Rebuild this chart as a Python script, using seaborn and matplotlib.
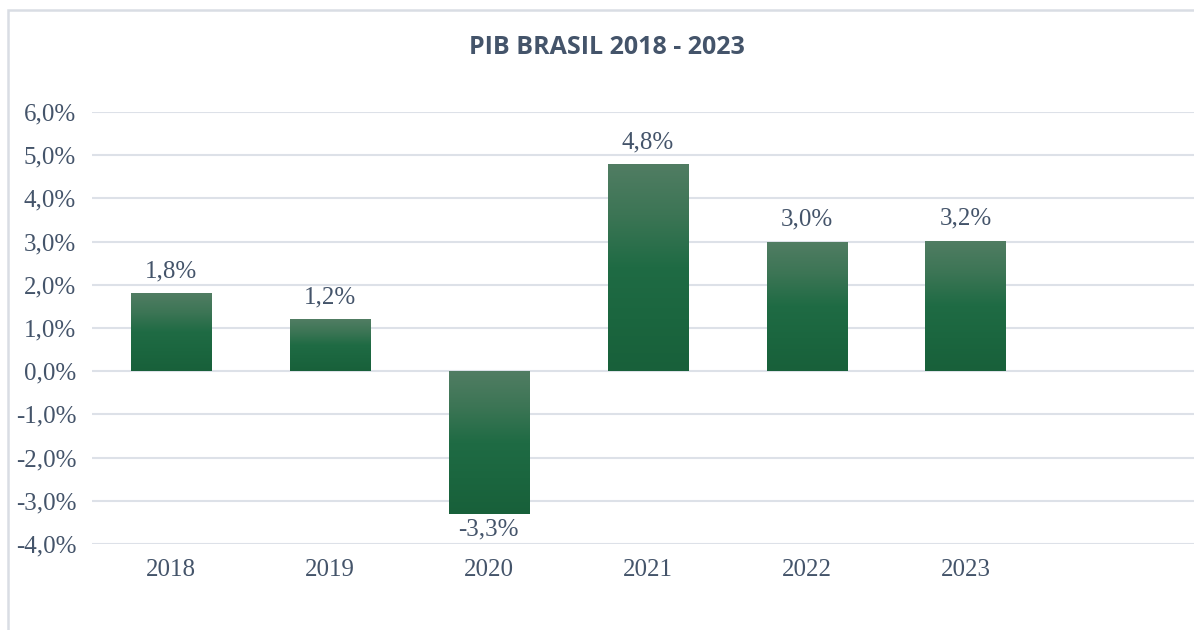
import numpy as np
import pandas as pd
import seaborn as sns
import matplotlib.pyplot as plt
from matplotlib.patches import Rectangle
from matplotlib.colors import LinearSegmentedColormap

# dados
anos = ["2018", "2019", "2020", "2021", "2022", "2023"]
pib = [1.8, 1.2, -3.3, 4.8, 3.0, 3.02]
rotulos = ["1,8%", "1,2%", "-3,3%", "4,8%", "3,0%", "3,2%"]
yticks = [-4, -3, -2, -1, 0, 1, 2, 3, 4, 5, 6]

TXT = "#44546a"
GRID = "#dde1e8"
SERIF = "Liberation Serif"

df = pd.DataFrame({"ano": anos, "pib": pib})

sns.set_style("white")
fig = plt.figure(figsize=(11.94, 6.30), dpi=100)
W, H = 1194, 630
# eixo vai além da borda direita (7o slot vazio, cortado)
ax = fig.add_axes([91.5 / W, 1 - 544 / H, (1204 - 91.5) / W, 432 / H])

sns.barplot(data=df, x="ano", y="pib", color="#1e6b43", width=0.505, ax=ax,
            saturation=1, zorder=3)

# gradiente nas barras
cmap = LinearSegmentedColormap.from_list(
    "g", ["#517d63", "#3c7555", "#1f6b44", "#1b663f", "#18603a"])
grad = np.linspace(0, 1, 256).reshape(-1, 1)
for p in ax.patches:
    x0, w = p.get_x(), p.get_width()
    y0, h = p.get_y(), p.get_height()
    top, bot = max(y0, y0 + h), min(y0, y0 + h)
    im = ax.imshow(grad, cmap=cmap, aspect="auto", extent=[x0, x0 + w, bot, top],
                   origin="upper", zorder=4)
    im.set_clip_path(p)
    p.set_facecolor("none")
    p.set_edgecolor("none")

ax.set_xlim(-0.5, 6.5)
ax.set_ylim(-4, 6)

# rótulos de valor
for i, (v, t) in enumerate(zip(pib, rotulos)):
    if v >= 0:
        ax.text(i, v + 0.25, t, ha="center", va="bottom", fontsize=18,
                family=SERIF, color=TXT)
    else:
        ax.text(i, v - 0.1, t, ha="center", va="top", fontsize=18,
                family=SERIF, color=TXT)

ax.set_yticks(yticks)
ax.set_yticklabels([f"{v},0%" for v in yticks])
ax.yaxis.grid(True, color=GRID, linewidth=1.5, zorder=0)
ax.xaxis.grid(False)
for s in ax.spines.values():
    s.set_visible(False)
ax.tick_params(axis="both", length=0, labelsize=18, colors=TXT)
ax.tick_params(axis="y", pad=11)
ax.tick_params(axis="x", pad=11)
for lb in ax.get_xticklabels() + ax.get_yticklabels():
    lb.set_family(SERIF)
ax.set_xlabel("")
ax.set_ylabel("")

fig.text(607 / W, 1 - 47 / H, "PIB BRASIL 2018 - 2023", ha="center", va="center",
         fontsize=18, fontweight="bold", family="Open Sans", color=TXT)

# moldura
fig.patches.append(Rectangle((8 / W, -0.1), 1.2, 1 - 10 / H + 0.1,
                             transform=fig.transFigure, fill=False,
                             edgecolor="#d9dde4", linewidth=1.8))

fig.savefig("out.png", dpi=100)
